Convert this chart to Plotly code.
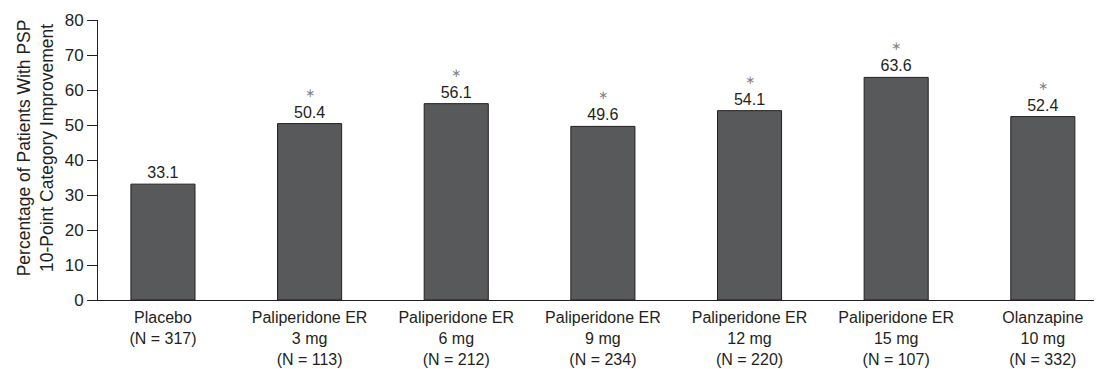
import plotly.graph_objects as go

categories = ["Placebo", "Paliperidone ER 3 mg", "Paliperidone ER 6 mg", "Paliperidone ER 9 mg",
              "Paliperidone ER 12 mg", "Paliperidone ER 15 mg", "Olanzapine 10 mg"]
tick_labels = ["Placebo<br>(N = 317)",
               "Paliperidone ER<br>3 mg<br>(N = 113)",
               "Paliperidone ER<br>6 mg<br>(N = 212)",
               "Paliperidone ER<br>9 mg<br>(N = 234)",
               "Paliperidone ER<br>12 mg<br>(N = 220)",
               "Paliperidone ER<br>15 mg<br>(N = 107)",
               "Olanzapine<br>10 mg<br>(N = 332)"]
values = [33.1, 50.4, 56.1, 49.6, 54.1, 63.6, 52.4]
significant = [False, True, True, True, True, True, True]

FONT = "Liberation Sans, Arial, Helvetica, sans-serif"
TXT = "#231f20"

x_idx = list(range(len(categories)))

fig = go.Figure()
fig.add_trace(go.Bar(
    x=x_idx, y=values,
    width=0.437,
    marker=dict(color="#58595b", line=dict(color="#231f20", width=1)),
    text=[f"{v:.1f}" for v in values],
    textposition="outside",
    textfont=dict(family=FONT, size=16, color=TXT),
    cliponaxis=False,
    hoverinfo="skip",
))

annotations = []
for xi, v, s in zip(x_idx, values, significant):
    if s:
        annotations.append(dict(
            x=xi, y=v, xref="x", yref="y", text="∗", showarrow=False,
            yanchor="bottom", yshift=22,
            font=dict(family="DejaVu Sans", size=12, color="#808080"),
        ))

annotations.append(dict(
    xref="paper", yref="paper", x=-0.0615, y=0.543,
    text="Percentage of Patients With PSP<br>10-Point Category Improvement",
    textangle=-90, showarrow=False, xanchor="center", yanchor="middle",
    font=dict(family=FONT, size=17.5, color=TXT),
))

fig.update_layout(
    width=1094, height=361,
    margin=dict(l=90, r=2, t=12, b=69),
    paper_bgcolor="white", plot_bgcolor="white",
    showlegend=False,
    font=dict(family=FONT, color=TXT),
    annotations=annotations,
    xaxis=dict(
        range=[-0.443, 6.39],
        tickmode="array", tickvals=x_idx, ticktext=tick_labels,
        showline=True, linecolor=TXT, linewidth=1,
        ticks="", showgrid=False, zeroline=False,
        ticklabelstandoff=3, automargin=False,
        tickfont=dict(family=FONT, size=16, color=TXT),
    ),
    yaxis=dict(
        range=[0, 80], dtick=10, tick0=0,
        showline=True, linecolor=TXT, linewidth=1,
        ticks="outside", ticklen=10, tickcolor=TXT, tickwidth=1,
        showgrid=False, zeroline=False, automargin=False,
        tickfont=dict(family=FONT, size=17, color=TXT),
    ),
)

fig.write_html("out.html")
